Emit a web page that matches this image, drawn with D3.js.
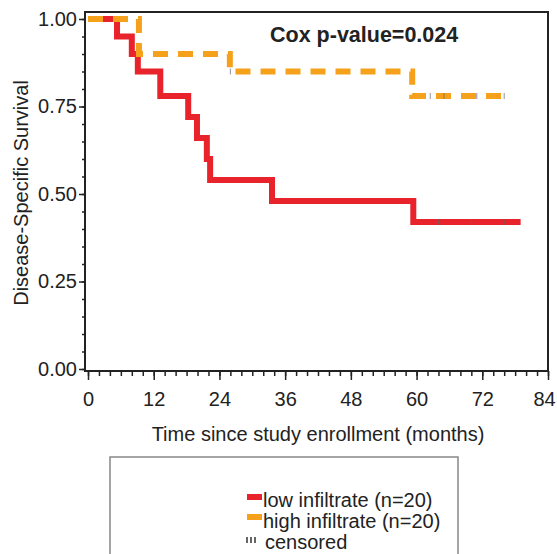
<!DOCTYPE html>
<html>
<head>
<meta charset="utf-8">
<script src="https://cdn.jsdelivr.net/npm/d3@7"></script>
<style>
  body { margin: 0; background: #fff; }
  text { font-family: "Liberation Sans", Arial, sans-serif; fill: #222; }
</style>
</head>
<body>
<svg id="km" width="557" height="554"></svg>
<script>
// survival step data (months, survival)
var lowTimes = [0, 5.3, 8.0, 9.1, 13.2, 18.3, 19.9, 21.7, 22.3, 33.6, 59.4, 79];
var lowSurv  = [1, 0.95, 0.90, 0.85, 0.78, 0.72, 0.66, 0.60, 0.54, 0.48, 0.42, 0.42];
var highTimes = [0, 9.3, 25.9, 59.2, 76];
var highSurv  = [1, 0.90, 0.85, 0.78, 0.78];
var lowCensor = [64, 70, 76];
var highCensor = [26, 62.5, 65, 71, 76];

var xTicks = [0, 12, 24, 36, 48, 60, 72, 84];
var yTicks = [0, 0.25, 0.5, 0.75, 1];
var legendLabels = ["low infiltrate (n=20)", "high infiltrate (n=20)", "censored"];
var pText = "Cox p-value=0.024";

var red = "#e8232b", orange = "#f5a11c";

var svg = d3.select('#km');
var x = d3.scaleLinear().domain([0, 84]).range([88, 548]);
var y = d3.scaleLinear().domain([0, 1]).range([369, 19]);

// frame
svg.append('rect')
  .attr('x', 85).attr('y', 12).attr('width', 463).attr('height', 359)
  .attr('fill', 'none').attr('stroke', '#222').attr('stroke-width', 2);

// y axis: minor then major
svg.append('g').attr('transform', 'translate(85,0)')
  .call(d3.axisLeft(y).tickValues(d3.range(0, 1.0001, 0.05)).tickSize(3).tickFormat(''))
  .call(g => g.select('.domain').remove())
  .call(g => g.selectAll('line').attr('stroke', '#222').attr('stroke-width', 1.5));

svg.append('g').attr('transform', 'translate(85,0)')
  .call(d3.axisLeft(y).tickValues(yTicks).tickSize(6).tickPadding(2).tickFormat(d3.format('.2f')))
  .call(g => g.select('.domain').remove())
  .call(g => g.selectAll('line').attr('stroke', '#222').attr('stroke-width', 1.5))
  .call(g => g.selectAll('text').style('font-size', '20px').attr('font-family', null));

// x axis
svg.append('g').attr('transform', 'translate(0,371)')
  .call(d3.axisBottom(x).tickValues(d3.range(0, 85, 2)).tickSize(5).tickFormat(''))
  .call(g => g.select('.domain').remove())
  .call(g => g.selectAll('line').attr('stroke', '#222').attr('stroke-width', 1.5));

svg.append('g').attr('transform', 'translate(0,371)')
  .call(d3.axisBottom(x).tickValues(xTicks).tickSize(9).tickPadding(12))
  .call(g => g.select('.domain').remove())
  .call(g => g.selectAll('line').attr('stroke', '#222').attr('stroke-width', 1.5))
  .call(g => g.selectAll('text').style('font-size', '20px').attr('font-family', null)
    .attr('dx', d => d === 84 ? -4 : 0));

// axis titles
svg.append('text')
  .attr('x', 318).attr('y', 441)
  .attr('text-anchor', 'middle')
  .style('font-size', '20px')
  .text('Time since study enrollment (months)');

svg.append('text')
  .attr('transform', 'translate(28,193) rotate(-90)')
  .attr('text-anchor', 'middle')
  .style('font-size', '20px')
  .text('Disease-Specific Survival');

// curves
var step = d3.line().curve(d3.curveStepAfter).x(d => x(d[0])).y(d => y(d[1]));
var lowData = d3.zip(lowTimes, lowSurv);
var highData = d3.zip(highTimes, highSurv);

svg.append('path').datum(lowData)
  .attr('d', step).attr('fill', 'none')
  .attr('stroke', red).attr('stroke-width', 6);

svg.append('path').datum(highData)
  .attr('d', step).attr('fill', 'none')
  .attr('stroke', orange).attr('stroke-width', 6)
  .attr('stroke-dasharray', '15,10');

// censor marks
function survAt(times, surv, t) {
  var i = d3.bisectRight(times, t) - 1;
  return surv[Math.max(0, i)];
}
function censorMarks(cs, times, surv) {
  svg.append('g').selectAll('line').data(cs).join('line')
    .attr('x1', d => x(d)).attr('x2', d => x(d))
    .attr('y1', d => y(survAt(times, surv, d)) - 3)
    .attr('y2', d => y(survAt(times, surv, d)) + 3)
    .attr('stroke', '#666').attr('stroke-width', 1).attr('opacity', 0.7);
}
censorMarks(lowCensor, lowTimes, lowSurv);
censorMarks(highCensor, highTimes, highSurv);

// p-value
svg.append('text')
  .attr('x', 270).attr('y', 42)
  .style('font-weight', 'bold')
  .style('font-size', '21.5px')
  .text(pText);

// legend
svg.append('rect')
  .attr('x', 110).attr('y', 457).attr('width', 348).attr('height', 110)
  .attr('fill', 'none').attr('stroke', '#888').attr('stroke-width', 1.5);

var leg = svg.append('g');
var legY = [507, 528, 549];
leg.append('rect').attr('x', 247).attr('y', 494).attr('width', 15).attr('height', 6).attr('fill', red);
leg.append('rect').attr('x', 247).attr('y', 514).attr('width', 15).attr('height', 6).attr('fill', orange);
leg.selectAll('line.cs').data([247, 251, 255]).join('line')
  .attr('class', 'cs')
  .attr('x1', d => d).attr('x2', d => d)
  .attr('y1', 537).attr('y2', 543)
  .attr('stroke', '#333').attr('stroke-width', 1.5);
leg.selectAll('text').data(legendLabels).join('text')
  .attr('x', (d, i) => i === 2 ? 265 : 263)
  .attr('y', (d, i) => legY[i])
  .style('font-size', '20px')
  .text(d => d);
</script>
</body>
</html>
